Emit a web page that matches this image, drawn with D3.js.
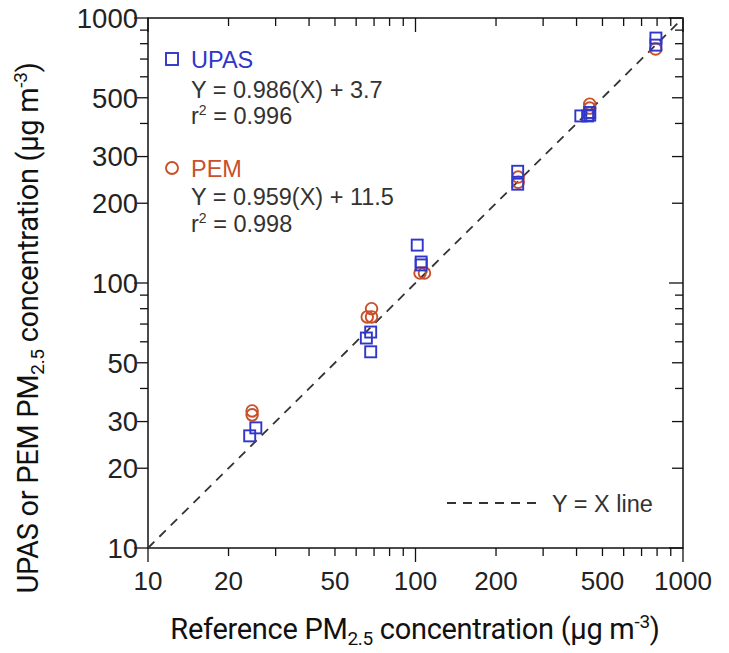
<!DOCTYPE html>
<html>
<head>
<meta charset="utf-8">
<script src="https://cdn.jsdelivr.net/npm/d3@7"></script>
<style>
  html, body { margin: 0; padding: 0; background: #fff; }
  svg { display: block; }
  .tick-label { font-family: "Liberation Sans", Arial, sans-serif; fill: #222; }
  .title { font-family: Roboto, "Noto Sans", sans-serif; font-size: 29px; font-weight: 400; fill: #111; letter-spacing: -0.3px; }
  .leg { font-family: "Liberation Sans", Arial, sans-serif; font-size: 23.5px; }
</style>
</head>
<body>
<div id="chart"></div>
<script>
// Data (reference vs sampler, µg m-3)
const upasRef = [24, 25.3, 65.5, 68, 68, 101.5, 105, 105, 241, 241, 415, 440, 448, 448, 792, 792];
const upasVal = [26.5, 28.4, 62, 65.3, 55, 139, 120, 117, 264, 236, 427, 427, 440, 430, 840, 790];
const pemRef = [24.5, 24.5, 68.5, 66, 68.5, 104, 108, 242, 242, 448, 448, 790];
const pemVal = [32.9, 31.8, 80, 74.5, 74.5, 109, 109, 251, 240, 473, 457, 764];

const xTickLabels = [10, 20, 50, 100, 200, 500, 1000];
const yTickLabels = [10, 20, 30, 50, 100, 200, 300, 500, 1000];
const decades = [10, 100, 1000];
const lineXY = [10, 1000];

const W = 729, H = 653;
const margin = {left: 148, right: 46, top: 18, bottom: 105};
const pw = W - margin.left - margin.right, ph = H - margin.top - margin.bottom;

const svg = d3.select("#chart").append("svg").attr("width", W).attr("height", H);
const g = svg.append("g").attr("transform", `translate(${margin.left},${margin.top})`);

const x = d3.scaleLog().domain([10, 1000]).range([0, pw]);
const y = d3.scaleLog().domain([10, 1000]).range([ph, 0]);

// all minor tick values 10..1000
const allTicks = [];
for (let d = 10; d < 1000; d *= 10) for (let k = 1; k < 10; k++) allTicks.push(d * k);
allTicks.push(1000);

const tickLenX = v => decades.includes(v) ? 14 : 8;
const tickLenY = v => decades.includes(v) ? 14 : (yTickLabels.includes(v) ? 11 : 8);

// ticks: bottom / left outward, top / right inward
const tk = g.append("g").attr("stroke", "#111").attr("stroke-width", 1.3);
allTicks.forEach(v => {
  tk.append("line").attr("x1", x(v)).attr("x2", x(v)).attr("y1", ph).attr("y2", ph + tickLenX(v));
  tk.append("line").attr("x1", x(v)).attr("x2", x(v)).attr("y1", 0).attr("y2", tickLenX(v));
  tk.append("line").attr("y1", y(v)).attr("y2", y(v)).attr("x1", 0).attr("x2", -tickLenY(v));
  tk.append("line").attr("y1", y(v)).attr("y2", y(v)).attr("x1", pw).attr("x2", pw - tickLenY(v));
});

g.selectAll("text.xl").data(xTickLabels).enter().append("text")
  .attr("class", "tick-label").attr("font-size", 26).attr("x", d => x(d)).attr("y", ph + 42)
  .attr("text-anchor", "middle").text(d => d);
g.selectAll("text.yl").data(yTickLabels).enter().append("text")
  .attr("class", "tick-label").attr("font-size", 27.5).attr("x", -10).attr("y", d => y(d)).attr("dy", "0.36em")
  .attr("text-anchor", "end").text(d => d);

// frame
g.append("rect").attr("width", pw).attr("height", ph)
  .attr("fill", "none").attr("stroke", "#111").attr("stroke-width", 1.5);

// Y = X line
g.append("line")
  .attr("x1", x(lineXY[0])).attr("y1", y(lineXY[0]))
  .attr("x2", x(lineXY[1])).attr("y2", y(lineXY[1]))
  .attr("stroke", "#333").attr("stroke-width", 1.8).attr("stroke-dasharray", "9,7");

const upasCol = "#2f36c9", pemCol = "#c9502b";

// PEM circles
g.selectAll("circle.pem").data(pemRef).enter().append("circle")
  .attr("cx", d => x(d)).attr("cy", (d, i) => y(pemVal[i])).attr("r", 5.8)
  .attr("fill", "none").attr("stroke", pemCol).attr("stroke-width", 1.9);

// UPAS squares
const s = 11;
g.selectAll("rect.upas").data(upasRef).enter().append("rect")
  .attr("x", d => x(d) - s / 2).attr("y", (d, i) => y(upasVal[i]) - s / 2)
  .attr("width", s).attr("height", s)
  .attr("fill", "none").attr("stroke", upasCol).attr("stroke-width", 1.9);

// legend
const lg = svg.append("g");
lg.append("rect").attr("x", 166).attr("y", 53).attr("width", 12).attr("height", 12)
  .attr("fill", "none").attr("stroke", upasCol).attr("stroke-width", 1.9);
lg.append("text").attr("class", "leg").attr("x", 191).attr("y", 68).attr("fill", upasCol).text("UPAS");
lg.append("text").attr("class", "leg").attr("x", 191).attr("y", 98).attr("fill", "#333").text("Y = 0.986(X) + 3.7");
const r1 = lg.append("text").attr("class", "leg").attr("x", 191).attr("y", 124).attr("fill", "#333");
r1.append("tspan").text("r");
r1.append("tspan").attr("font-size", 14).attr("dy", -9).text("2");
r1.append("tspan").attr("dy", 9).text(" = 0.996");

lg.append("circle").attr("cx", 172).attr("cy", 168).attr("r", 6)
  .attr("fill", "none").attr("stroke", pemCol).attr("stroke-width", 1.9);
lg.append("text").attr("class", "leg").attr("x", 191).attr("y", 177).attr("fill", pemCol).text("PEM");
lg.append("text").attr("class", "leg").attr("x", 191).attr("y", 205).attr("fill", "#333").text("Y = 0.959(X) + 11.5");
const r2 = lg.append("text").attr("class", "leg").attr("x", 191).attr("y", 232).attr("fill", "#333");
r2.append("tspan").text("r");
r2.append("tspan").attr("font-size", 14).attr("dy", -9).text("2");
r2.append("tspan").attr("dy", 9).text(" = 0.998");

lg.append("line").attr("x1", 447).attr("x2", 537).attr("y1", 503).attr("y2", 503)
  .attr("stroke", "#333").attr("stroke-width", 1.8).attr("stroke-dasharray", "9,7");
lg.append("text").attr("class", "leg").attr("font-size", 26).attr("x", 552).attr("y", 512).attr("fill", "#333").text("Y = X line");

// axis titles
const xt = svg.append("text").attr("class", "title").attr("x", 415).attr("y", 639).attr("text-anchor", "middle");
xt.append("tspan").text("Reference PM");
xt.append("tspan").attr("font-size", 19).attr("dy", 6).text("2.5");
xt.append("tspan").attr("dy", -6).text(" concentration (µg m");
xt.append("tspan").attr("font-size", 19).attr("dy", -11).text("-3");
xt.append("tspan").attr("dy", 11).text(")");

const yt = svg.append("text").attr("class", "title")
  .attr("transform", "translate(38,328) rotate(-90)").attr("text-anchor", "middle");
yt.append("tspan").text("UPAS or PEM PM");
yt.append("tspan").attr("font-size", 19).attr("dy", 6).text("2.5");
yt.append("tspan").attr("dy", -6).text(" concentration (µg m");
yt.append("tspan").attr("font-size", 19).attr("dy", -11).text("-3");
yt.append("tspan").attr("dy", 11).text(")");
</script>
</body>
</html>
